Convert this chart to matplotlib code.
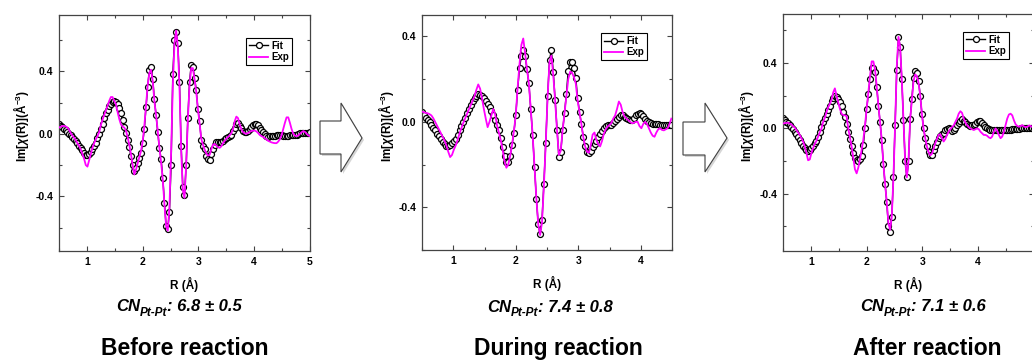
import numpy as np
import matplotlib
matplotlib.use("Agg")
import matplotlib.pyplot as plt
from matplotlib.patches import Polygon
from matplotlib.ticker import MultipleLocator

plt.rcParams['font.family'] = ['Liberation Sans', 'DejaVu Sans']
plt.rcParams['mathtext.fontset'] = 'custom'
plt.rcParams['mathtext.rm'] = 'Liberation Sans:bold'
plt.rcParams['mathtext.bf'] = 'Liberation Sans:bold'
plt.rcParams['mathtext.it'] = 'Liberation Sans:italic:bold'

# ---------------- data (R grid: 0.5 Å start, 0.03 Å step) ----------------
R_START, R_STEP = 0.5, 0.03

fit_before = [0.06, 0.05, 0.042, 0.033, 0.022, 0.01, 0.0, -0.01, -0.02, -0.033,
              -0.045, -0.06, -0.075, -0.09, -0.105, -0.12, -0.133, -0.137, -0.128, -0.115,
              -0.10, -0.08, -0.057, -0.03, 0.0, 0.03, 0.065, 0.10, 0.13, 0.155,
              0.175, 0.192, 0.203, 0.21, 0.205, 0.19, 0.165, 0.13, 0.085, 0.045,
              0.005, -0.04, -0.085, -0.14, -0.2, -0.24, -0.22, -0.19, -0.155, -0.125,
              -0.06, 0.03, 0.17, 0.30, 0.41, 0.43, 0.35, 0.22, 0.12, 0.01,
              -0.09, -0.16, -0.28, -0.44, -0.59, -0.61, -0.50, -0.20, 0.38, 0.60,
              0.65, 0.58, 0.33, -0.08, -0.34, -0.39, -0.2, 0.1, 0.33, 0.44,
              0.43, 0.36, 0.28, 0.16, 0.08, -0.04, -0.08, -0.1, -0.14, -0.16,
              -0.165, -0.13, -0.1, -0.07, -0.055, -0.05, -0.055, -0.055, -0.045, -0.035,
              -0.025, -0.02, -0.015, -0.005, 0.015, 0.04, 0.065, 0.07, 0.05, 0.035,
              0.02, 0.012, 0.01, 0.018, 0.03, 0.045, 0.055, 0.06, 0.06, 0.055,
              0.04, 0.025, 0.01, -0.003, -0.012, -0.02, -0.017, -0.015, -0.015, -0.012,
              -0.01, -0.006, -0.005, -0.01, -0.013, -0.015, -0.015, -0.013, -0.01, -0.01,
              -0.01, -0.007, -0.005, -0.001, 0.002, 0.005, 0.005, 0.005, 0.005, 0.007,
              0.01]
exp_before = [0.04, 0.045, 0.05, 0.05, 0.047, 0.04, 0.025, 0.005, -0.012, -0.025,
              -0.04, -0.06, -0.077, -0.1, -0.13, -0.16, -0.2, -0.21, -0.17, -0.13,
              -0.09, -0.06, -0.035, -0.015, 0.01, 0.055, 0.09, 0.12, 0.15, 0.18,
              0.21, 0.235, 0.235, 0.21, 0.19, 0.14, 0.095, 0.06, 0.045, 0.04,
              0.02, -0.02, -0.07, -0.13, -0.2, -0.26, -0.23, -0.19, -0.15, -0.11,
              -0.05, 0.05, 0.18, 0.31, 0.39, 0.41, 0.34, 0.21, 0.12, 0.02,
              -0.09, -0.18, -0.29, -0.45, -0.59, -0.62, -0.47, -0.12, 0.3, 0.58,
              0.66, 0.56, 0.3, -0.1, -0.36, -0.41, -0.2, 0.09, 0.31, 0.42,
              0.42, 0.35, 0.27, 0.16, 0.07, -0.03, -0.07, -0.1, -0.125, -0.14,
              -0.135, -0.1, -0.07, -0.065, -0.075, -0.085, -0.09, -0.08, -0.06, -0.045,
              -0.03, -0.02, -0.01, 0.005, 0.03, 0.08, 0.11, 0.1, 0.06, 0.03,
              0.01, 0.003, 0.0, 0.005, 0.012, 0.018, 0.02, 0.02, 0.015, 0.005,
              -0.008, -0.015, -0.02, -0.028, -0.037, -0.045, -0.05, -0.055, -0.058, -0.06,
              -0.06, -0.05, -0.035, -0.01, 0.03, 0.07, 0.105, 0.105, 0.07, 0.03,
              0.0, -0.012, -0.015, -0.01, 0.0, 0.01, 0.017, 0.012, 0.0, -0.01,
              -0.015]

fit_during = [0.045, 0.03, 0.02, 0.01, -0.002, -0.013, -0.027, -0.04, -0.055, -0.067,
              -0.08, -0.093, -0.105, -0.112, -0.115, -0.11, -0.1, -0.092, -0.08, -0.06,
              -0.04, -0.02, 0.0, 0.02, 0.04, 0.06, 0.08, 0.097, 0.112, 0.123,
              0.128, 0.127, 0.12, 0.11, 0.097, 0.083, 0.068, 0.05, 0.03, 0.008,
              -0.015, -0.04, -0.075, -0.12, -0.16, -0.19, -0.19, -0.16, -0.11, -0.05,
              0.03, 0.15, 0.25, 0.31, 0.335, 0.31, 0.245, 0.18, 0.06, -0.06,
              -0.21, -0.36, -0.48, -0.525, -0.46, -0.29, -0.1, 0.12, 0.29, 0.335,
              0.235, 0.1, -0.04, -0.163, -0.14, -0.04, 0.04, 0.13, 0.24, 0.28,
              0.28, 0.25, 0.207, 0.11, 0.045, -0.01, -0.07, -0.115, -0.14, -0.148,
              -0.135, -0.12, -0.105, -0.088, -0.07, -0.056, -0.043, -0.028, -0.02, -0.015,
              -0.015, -0.015, -0.007, 0.003, 0.014, 0.024, 0.033, 0.032, 0.023, 0.017,
              0.012, 0.009, 0.01, 0.02, 0.03, 0.037, 0.04, 0.038, 0.025, 0.012,
              0.003, -0.002, -0.007, -0.009, -0.011, -0.012, -0.012, -0.013, -0.014, -0.014,
              -0.015, -0.015, -0.015, -0.015]
exp_during = [0.048, 0.045, 0.042, 0.04, 0.036, 0.03, 0.017, 0.0, -0.018, -0.035,
              -0.052, -0.07, -0.088, -0.11, -0.14, -0.165, -0.155, -0.13, -0.11, -0.085,
              -0.055, -0.03, -0.005, 0.016, 0.036, 0.057, 0.078, 0.1, 0.12, 0.15,
              0.175, 0.155, 0.11, 0.06, 0.015, -0.025, 0.0, 0.03, 0.06, 0.035,
              -0.015, -0.05, -0.085, -0.13, -0.185, -0.215, -0.2, -0.16, -0.11, -0.045,
              0.03, 0.16, 0.27, 0.36, 0.39, 0.32, 0.245, 0.18, 0.06, -0.06,
              -0.21, -0.36, -0.48, -0.53, -0.47, -0.3, -0.1, 0.12, 0.28, 0.31,
              0.22, 0.1, -0.04, -0.155, -0.135, -0.04, 0.04, 0.12, 0.2, 0.235,
              0.23, 0.21, 0.18, 0.1, 0.045, -0.01, -0.07, -0.115, -0.14, -0.145,
              -0.11, -0.06, -0.05, -0.085, -0.105, -0.115, -0.09, -0.055, -0.035, -0.022,
              -0.015, -0.005, 0.015, 0.03, 0.06, 0.095, 0.08, 0.045, 0.025, 0.015,
              0.008, 0.0, -0.007, -0.005, 0.0, 0.0, -0.02, -0.03, -0.01, 0.0,
              -0.01, -0.03, -0.05, -0.065, -0.07, -0.05, -0.035, -0.03, -0.038, -0.04,
              -0.035, -0.03, -0.01, 0.015]

fit_after = [0.062, 0.05, 0.04, 0.032, 0.02, 0.008, -0.005, -0.02, -0.035, -0.055,
             -0.072, -0.09, -0.105, -0.122, -0.135, -0.14, -0.135, -0.122, -0.108, -0.09,
             -0.075, -0.05, -0.02, 0.01, 0.04, 0.065, 0.09, 0.112, 0.14, 0.165,
             0.185, 0.2, 0.195, 0.18, 0.16, 0.14, 0.1, 0.07, 0.025, -0.02,
             -0.065, -0.11, -0.15, -0.18, -0.195, -0.2, -0.185, -0.17, -0.1, 0.0,
             0.12, 0.21, 0.3, 0.37, 0.37, 0.345, 0.255, 0.14, 0.04, -0.07,
             -0.22, -0.34, -0.45, -0.6, -0.635, -0.54, -0.3, 0.02, 0.36, 0.56,
             0.5, 0.3, 0.05, -0.2, -0.3, -0.2, 0.06, 0.18, 0.31, 0.35,
             0.34, 0.29, 0.2, 0.09, 0.0, -0.06, -0.11, -0.145, -0.165, -0.16,
             -0.135, -0.11, -0.085, -0.06, -0.047, -0.037, -0.027, -0.012, -0.004, 0.0,
             -0.005, -0.014, -0.012, 0.005, 0.02, 0.032, 0.048, 0.055, 0.048, 0.038,
             0.03, 0.022, 0.017, 0.018, 0.022, 0.03, 0.04, 0.047, 0.043, 0.033,
             0.02, 0.008, 0.0, -0.005, -0.008, -0.01, -0.01, -0.01, -0.01, -0.01,
             -0.01, -0.01, -0.01, -0.01, -0.009, -0.008, -0.007, -0.006, -0.005, -0.004,
             -0.003, -0.002, 0.0, 0.0, 0.001, 0.003, 0.004, 0.005, 0.005, 0.005,
             0.005]
exp_after = [0.03, 0.032, 0.034, 0.035, 0.03, 0.025, 0.014, 0.005, -0.01, -0.025,
             -0.04, -0.06, -0.08, -0.11, -0.15, -0.195, -0.19, -0.15, -0.12, -0.095,
             -0.075, -0.05, -0.025, 0.0, 0.04, 0.065, 0.1, 0.13, 0.15, 0.175,
             0.22, 0.245, 0.2, 0.16, 0.12, 0.09, 0.082, 0.08, 0.075, 0.0,
             -0.055, -0.11, -0.18, -0.25, -0.275, -0.24, -0.19, -0.13, -0.07, 0.02,
             0.12, 0.22, 0.32, 0.41, 0.41, 0.36, 0.26, 0.14, 0.04, -0.07,
             -0.22, -0.34, -0.45, -0.58, -0.62, -0.54, -0.3, 0.02, 0.38, 0.56,
             0.5, 0.3, 0.05, -0.2, -0.3, -0.2, 0.06, 0.17, 0.29, 0.33,
             0.32, 0.28, 0.2, 0.09, 0.0, -0.06, -0.11, -0.145, -0.165, -0.155,
             -0.125, -0.09, -0.065, -0.04, -0.035, -0.06, -0.08, -0.065, -0.04, -0.02,
             -0.005, 0.008, 0.018, 0.04, 0.06, 0.09, 0.105, 0.095, 0.06, 0.035,
             0.02, 0.008, 0.0, -0.005, -0.01, -0.005, 0.0, -0.005, -0.02, -0.03,
             -0.04, -0.04, -0.045, -0.055, -0.06, -0.05, -0.02, 0.0, -0.015, -0.04,
             -0.06, -0.05, -0.02, 0.02, 0.06, 0.085, 0.09, 0.08, 0.05, 0.025,
             0.015, 0.01, 0.015, 0.02, 0.012, 0.008, 0.01, 0.018, 0.015, 0.008,
             0.005]

cn_values = ["6.8 \u00b1 0.5", "7.4 \u00b1 0.8", "7.1 \u00b1 0.6"]
stage_labels = ["Before reaction", "During reaction", "After reaction"]
xlims = [(0.5, 5.0), (0.5, 4.5), (0.5, 5.0)]
ylims = [(-0.75, 0.76), (-0.6, 0.5), (-0.75, 0.7)]
xtick_sets = [[1, 2, 3, 4, 5], [1, 2, 3, 4], [1, 2, 3, 4]]


def r_grid(values):
    return np.round(R_START + R_STEP * np.arange(len(values)), 3)


# ---------------- layout ----------------
W, H = 1032, 360
fig = plt.figure(figsize=(W / 100, H / 100), dpi=100)


def fx(px):
    return px / W


def fy(py):
    return 1 - py / H


boxes = [(59, 310, 15, 251), (422, 672, 15, 250), (783, 1034, 14, 251)]
legend_anchor = [(0.928, 0.903), (0.9, 0.923), (0.9, 0.925)]
ylabel_x = [-0.112, -0.104, -0.109]
cn_pos = [(179, 311), (550, 312), (923, 311)]
stage_pos = [(185, 355), (558, 355), (927, 355)]

series = [(fit_before, exp_before), (fit_during, exp_during), (fit_after, exp_after)]

for i, (fit, ex) in enumerate(series):
    l, rr, t, b = boxes[i]
    ax = fig.add_axes([fx(l), fy(b), (rr - l) / W, (b - t) / H])
    ax.plot(r_grid(fit), fit, color='black', lw=1.0, marker='o', ms=4.3, mfc='white',
            mec='black', mew=0.9, label='Fit', zorder=2)
    ax.plot(r_grid(ex), ex, color='#ff00ff', lw=1.3, label='Exp', zorder=3)
    ax.set_xlim(*xlims[i])
    ax.set_ylim(*ylims[i])
    ax.set_xticks(xtick_sets[i])
    ax.xaxis.set_minor_locator(MultipleLocator(0.5))
    ax.yaxis.set_major_locator(MultipleLocator(0.4))
    ax.yaxis.set_minor_locator(MultipleLocator(0.2))
    ax.yaxis.set_major_formatter(plt.FuncFormatter(lambda v, p: f"{v:.1f}"))
    ax.tick_params(which='both', direction='in', top=True, right=True,
                   width=0.8, labelsize=7.5, color='#444444')
    ax.tick_params(which='major', length=3.5, pad=4)
    ax.tick_params(which='minor', length=2)
    for lab in ax.get_xticklabels() + ax.get_yticklabels():
        lab.set_fontweight('bold')
    for s in ax.spines.values():
        s.set_linewidth(0.9)
        s.set_color('#444444')
    ax.set_xlabel('R (\u00c5)', fontsize=8.5, fontweight='bold')
    ax.xaxis.set_label_coords(0.5, -0.11)
    ax.set_ylabel('Im[$\\chi$(R)](\u00c5$^{-3}$)', fontsize=8.5, fontweight='bold')
    ax.yaxis.set_label_coords(ylabel_x[i], 0.53)
    leg = ax.legend(loc='upper right', bbox_to_anchor=legend_anchor[i],
                    borderaxespad=0, fancybox=False, framealpha=1,
                    edgecolor='black', handlelength=2.0,
                    handletextpad=0.3, borderpad=0.3, labelspacing=0.15,
                    prop={'weight': 'bold', 'size': 7})
    leg.get_frame().set_linewidth(0.8)

for i in range(3):
    x, y = stage_pos[i]
    fig.text(fx(x), fy(y), stage_labels[i], ha='center', va='baseline',
             fontsize=16.5, fontweight='bold')

# CN labels built from main text, subscript and value
fig.canvas.draw()
renderer = fig.canvas.get_renderer()
for i in range(3):
    xc, ybase = cn_pos[i]
    pieces = [("CN", 12, 0), ("Pt-Pt", 8.5, -4.5), (": " + cn_values[i], 12, 0)]
    arts = []
    for txt, size, dy in pieces:
        a = fig.text(0, fy(ybase - dy), txt, fontsize=size, fontweight='bold',
                     fontstyle='italic', ha='left', va='baseline')
        arts.append(a)
    widths = [a.get_window_extent(renderer).width for a in arts]
    xs = xc - sum(widths) / 2
    for a, w in zip(arts, widths):
        a.set_x(fx(xs))
        xs += w


def block_arrow(x0, xm, xt, yb0, yb1, yh0, yh1, ytip):
    pts = [(x0, yb0), (xm, yb0), (xm, yh0), (xt, ytip), (xm, yh1), (xm, yb1), (x0, yb1)]
    shadow = Polygon([(fx(px + 2), fy(py + 2)) for px, py in pts], closed=True,
                     transform=fig.transFigure, facecolor='#bbbbbb', edgecolor='none',
                     alpha=0.6)
    main = Polygon([(fx(px), fy(py)) for px, py in pts], closed=True,
                   transform=fig.transFigure, facecolor='white', edgecolor='#404040',
                   lw=0.8)
    fig.add_artist(shadow)
    fig.add_artist(main)


block_arrow(320, 341, 362, 121, 154, 103, 172, 138)
block_arrow(683, 705, 727, 122, 155, 103, 172, 138)

fig.savefig('out.png', dpi=100)
